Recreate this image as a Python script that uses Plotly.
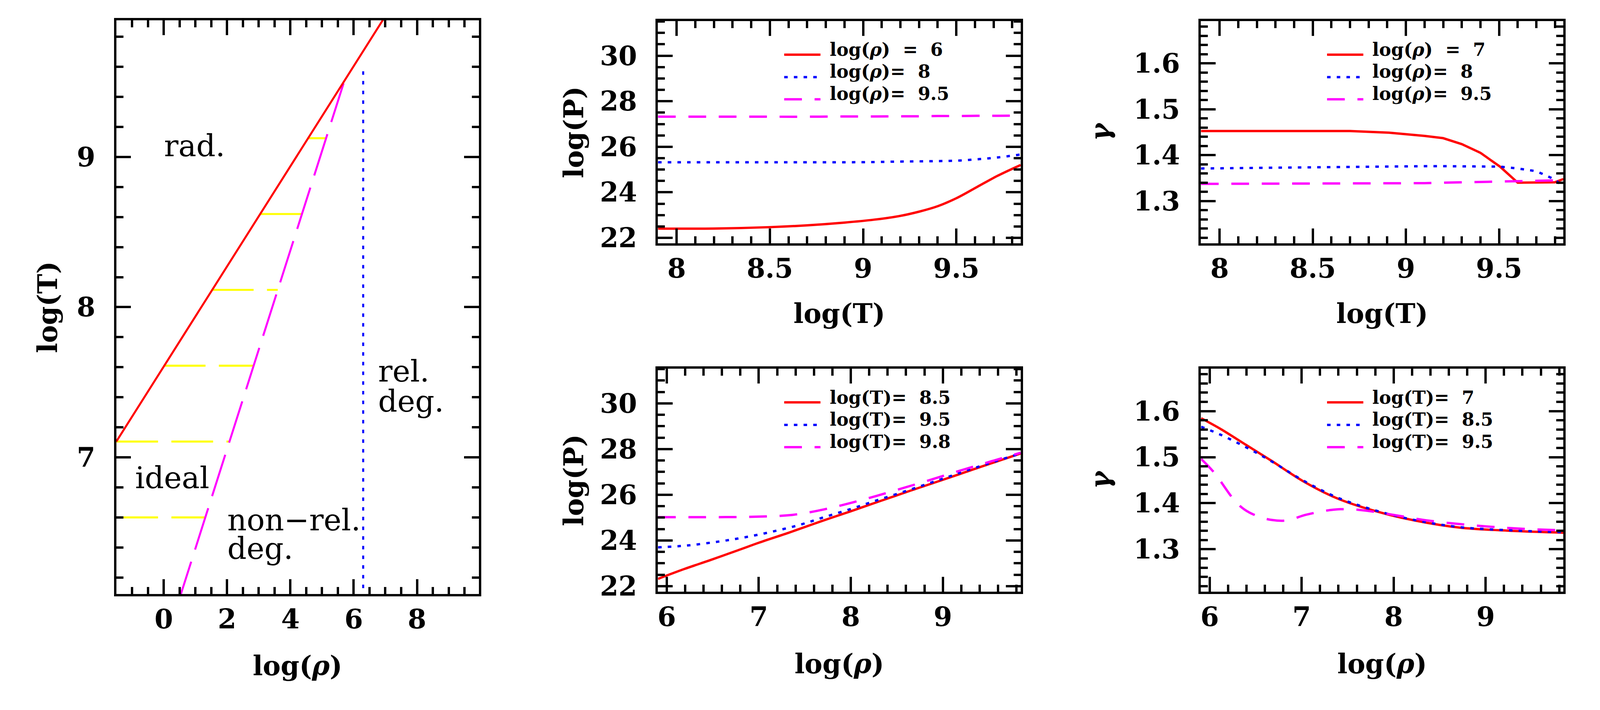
import plotly.graph_objects as go

# ---------------- data ----------------
# left panel: regime boundaries in the log(rho)-log(T) plane
rad_rho = [-1.5, 7.2]
rad_logT = [7.105, 10.005]
nrd_rho = [0.45, 5.68]
nrd_logT = [6.03, 9.49]
rd_rho = [6.3, 6.3]
rd_logT = [6.0, 9.6]
yel_logT = [6.6, 7.105, 7.61, 8.115, 8.62, 9.125]
yel_rho_start = [-1.5, -1.5, 0.0, 1.52, 3.04, 4.56]
yel_rho_end = [1.30, 2.07, 2.84, 3.60, 4.37, 5.13]

# middle top: log(P) vs log(T)
tm_logT = [7.90, 8.20, 8.50, 8.70, 8.90, 9.06, 9.19, 9.30, 9.40, 9.50, 9.61, 9.72, 9.845]
P_rho6 = [22.41, 22.41, 22.47, 22.55, 22.67, 22.80, 22.95, 23.15, 23.39, 23.74, 24.23, 24.72, 25.20]
P_rho8 = [25.32, 25.32, 25.32, 25.32, 25.32, 25.33, 25.35, 25.36, 25.37, 25.39, 25.45, 25.53, 25.66]
P_rho95 = [27.32, 27.32, 27.32, 27.32, 27.33, 27.33, 27.34, 27.34, 27.35, 27.35, 27.36, 27.36, 27.37]

# right top: gamma vs log(T)
tr_logT = [7.90, 8.30, 8.70, 8.91, 9.10, 9.20, 9.30, 9.40, 9.505, 9.60, 9.70, 9.80, 9.845]
g_rho7 = [1.4526, 1.4526, 1.4525, 1.449, 1.442, 1.437, 1.424, 1.405, 1.375, 1.340, 1.341, 1.341, 1.348]
g_rho8 = [1.371, 1.373, 1.375, 1.3755, 1.376, 1.376, 1.376, 1.376, 1.375, 1.371, 1.365, 1.347, 1.331]
g_rho95 = [1.3375, 1.3377, 1.338, 1.3385, 1.339, 1.340, 1.341, 1.342, 1.343, 1.344, 1.3445, 1.345, 1.345]

# middle bottom: log(P) vs log(rho)
bm_rho_a = [5.905, 6.19, 6.48, 6.78, 7.0, 7.34, 7.67, 8.0, 8.30, 8.64, 9.01, 9.38, 9.845]
P_T85 = [22.32, 22.75, 23.15, 23.58, 23.90, 24.36, 24.83, 25.28, 25.70, 26.17, 26.67, 27.18, 27.81]
bm_rho_b = [5.905, 6.22, 6.56, 6.85, 7.15, 7.45, 7.71, 8.0, 8.27, 8.64, 9.01, 9.38, 9.845]
P_T95 = [23.70, 23.78, 23.95, 24.14, 24.39, 24.69, 25.02, 25.38, 25.74, 26.22, 26.72, 27.22, 27.81]
bm_rho_c = [5.905, 6.41, 6.97, 7.34, 7.60, 7.89, 8.19, 8.49, 8.82, 9.19, 9.53, 9.845]
P_T98 = [25.02, 25.02, 25.04, 25.11, 25.27, 25.53, 25.85, 26.20, 26.60, 27.06, 27.47, 27.84]

# right bottom: gamma vs log(rho)
br_rho_a = [5.907, 6.12, 6.40, 6.68, 7.01, 7.38, 7.79, 8.24, 8.72, 9.28, 9.845]
g_T7 = [1.5845, 1.561, 1.526, 1.491, 1.4485, 1.411, 1.3835, 1.362, 1.347, 1.340, 1.336]
g_T85 = [1.566, 1.5485, 1.521, 1.490, 1.450, 1.413, 1.385, 1.363, 1.348, 1.341, 1.337]
br_rho_c = [5.907, 6.05, 6.27, 6.38, 6.53, 6.68, 6.83, 7.05, 7.27, 7.42, 7.60, 7.80, 8.05, 8.35, 8.70, 9.05, 9.40, 9.845]
g_T95 = [1.496, 1.466, 1.406, 1.386, 1.371, 1.3635, 1.3625, 1.375, 1.384, 1.387, 1.386, 1.381, 1.373, 1.363, 1.355, 1.349, 1.3445, 1.341]

legend_tm = ["log(<i>ρ</i>)&nbsp; = &nbsp;6", "log(<i>ρ</i>)= &nbsp;8", "log(<i>ρ</i>)= &nbsp;9.5"]
legend_tr = ["log(<i>ρ</i>)&nbsp; = &nbsp;7", "log(<i>ρ</i>)= &nbsp;8", "log(<i>ρ</i>)= &nbsp;9.5"]
legend_bm = ["log(T)= &nbsp;8.5", "log(T)= &nbsp;9.5", "log(T)= &nbsp;9.8"]
legend_br = ["log(T)= &nbsp;7", "log(T)= &nbsp;8.5", "log(T)= &nbsp;9.5"]

region_text = ["rad.", "ideal", "non−rel.", "deg.", "rel.", "deg."]
region_rho = [0.0, -0.92, 1.99, 2.0, 6.76, 6.76]
region_logT = [9.073, 6.863, 6.583, 6.393, 7.573, 7.373]

# ---------------- styles ----------------
S = 1.17  # device pixels per CSS pixel of the photographing browser


def px(v):
    return v / S


RED, BLUE, MAG, YEL = "#ff0000", "#0000ff", "#ff00ff", "#ffff00"
LW = px(7)
LW_LEFT = px(6)
DOT = f"{px(10.5):.1f}px,{px(18.5):.1f}px"
DASH_S = f"{px(53):.1f}px,{px(38):.1f}px"
DASH_L = f"{px(130):.1f}px,{px(38):.1f}px"
DASH_Y = f"{px(125):.1f}px,{px(40):.1f}px"
FONT = "DejaVu Serif"
styles = [
    dict(color=RED, width=LW, dash="solid"),
    dict(color=BLUE, width=LW, dash=DOT),
    dict(color=MAG, width=LW, dash=DASH_S),
]

fig = go.Figure()


def add(x, y, line, xa, ya, shape="linear"):
    fig.add_trace(go.Scatter(x=x, y=y, mode="lines", line=dict(**line, shape=shape),
                             xaxis=xa, yaxis=ya, showlegend=False, hoverinfo="skip"))


# left panel
for ys, xs, xe in zip(yel_logT, yel_rho_start, yel_rho_end):
    add([xs, xe], [ys, ys], dict(color=YEL, width=LW_LEFT, dash=DASH_Y), "x", "y")
add(nrd_rho, nrd_logT, dict(color=MAG, width=LW_LEFT, dash=DASH_L), "x", "y")
add(rad_rho, rad_logT, dict(color=RED, width=LW_LEFT, dash="solid"), "x", "y")
add(rd_rho, rd_logT, dict(color=BLUE, width=LW_LEFT, dash=DOT), "x", "y")

# middle top
for y, st in zip([P_rho6, P_rho8, P_rho95], styles):
    add(tm_logT, y, st, "x2", "y2", "spline")
# right top
for y, st in zip([g_rho7, g_rho8, g_rho95], styles):
    add(tr_logT, y, st, "x3", "y3")
# middle bottom
for x, y, st in zip([bm_rho_a, bm_rho_b, bm_rho_c], [P_T85, P_T95, P_T98], styles):
    add(x, y, st, "x4", "y4", "spline")
# right bottom
for x, y, st in zip([br_rho_a, br_rho_a, br_rho_c], [g_T7, g_T85, g_T95], styles):
    add(x, y, st, "x5", "y5", "spline")


# ---------------- axes ----------------
def axis(rng, domain, anchor, dtick, mdtick, title, standoff, tl_standoff, tick0=0):
    return dict(
        range=rng, domain=domain, anchor=anchor, autorange=False, automargin=False,
        showline=True, linewidth=px(7), linecolor="black", mirror="ticks",
        ticks="inside", ticklen=px(44), tickwidth=px(7), tickcolor="black",
        tick0=tick0, dtick=dtick,
        minor=dict(dtick=mdtick, tick0=tick0, ticks="inside", ticklen=px(21), tickwidth=px(7),
                   tickcolor="black", showgrid=False),
        showgrid=False, zeroline=False,
        tickfont=dict(family=FONT, size=px(80), color="black", weight="bold"),
        ticklabelstandoff=int(round(px(tl_standoff))),
        title=dict(text=title, standoff=px(standoff),
                   font=dict(family=FONT, size=px(80), color="black", weight="bold")),
    )


XL = [0.0727, 0.2992]
XM = [0.41125, 0.6379]
XR = [0.7506, 0.9771]
YL = [0.1634, 0.9714]
YT = [0.6573, 0.9703]
YB = [0.1667, 0.4807]

rho_title = "log(<i>ρ</i>)"
fig.update_layout(
    xaxis=axis([-1.5, 9.95], XL, "y", 2, 0.5, rho_title, 69, 0),
    yaxis=axis([6.09, 9.91], YL, "x", 1, 0.2, "log(T)", 35, 40),
    xaxis2=axis([7.9, 9.845], XM, "y2", 0.5, 0.1, "log(T)", 65, 0),
    yaxis2=axis([21.76, 31.52], YT, "x2", 2, 0.5, "log(P)", 26, 40),
    xaxis3=axis([7.9, 9.845], XR, "y3", 0.5, 0.1, "log(T)", 65, 0),
    yaxis3=axis([1.208, 1.692], YT, "x3", 0.1, 0.02, "<i>γ</i>", 47, 40),
    xaxis4=axis([5.905, 9.845], XM, "y4", 1, 0.2, rho_title, 70, 0),
    yaxis4=axis([21.76, 31.52], YB, "x4", 2, 0.5, "log(P)", 26, 40),
    xaxis5=axis([5.905, 9.845], XR, "y5", 1, 0.2, rho_title, 70, 0),
    yaxis5=axis([1.208, 1.692], YB, "x5", 0.1, 0.02, "<i>γ</i>", 47, 40),
)

# ---------------- legends (drawn inside panels) ----------------
shapes = []
annotations = []
LEG_SAMPLE_X = [0.348, 0.448]
LEG_TEXT_X = 0.472
LEG_LINE_Y = [0.849, 0.748, 0.648]
LEG_TEXT_Y = [0.871, 0.773, 0.673]
for (xa, ya), texts in zip([("x2", "y2"), ("x3", "y3"), ("x4", "y4"), ("x5", "y5")],
                           [legend_tm, legend_tr, legend_bm, legend_br]):
    for st, txt, ly, ty in zip(styles, texts, LEG_LINE_Y, LEG_TEXT_Y):
        shapes.append(dict(type="line", xref=xa + " domain", yref=ya + " domain",
                           x0=LEG_SAMPLE_X[0], x1=LEG_SAMPLE_X[1], y0=ly, y1=ly,
                           line=dict(color=st["color"], width=LW, dash=st["dash"])))
        annotations.append(dict(text=txt, xref=xa + " domain", yref=ya + " domain",
                                x=LEG_TEXT_X, y=ty, xanchor="left", yanchor="middle",
                                showarrow=False, borderpad=0,
                                font=dict(family=FONT, size=px(54), color="black", weight="bold")))

# region labels in the left panel
for t, xr, yt in zip(region_text, region_rho, region_logT):
    annotations.append(dict(text=t, x=xr, y=yt, xref="x", yref="y", xanchor="left",
                            yanchor="middle", showarrow=False, borderpad=0,
                            font=dict(family=FONT, size=px(90), color="black")))

fig.update_layout(
    shapes=shapes, annotations=annotations,
    autosize=True, margin=dict(l=0, r=0, t=0, b=0, pad=0),
    paper_bgcolor="white", plot_bgcolor="white", template="none", showlegend=False,
)

post = ("document.documentElement.style.margin='0';document.body.style.margin='0';"
        "document.body.style.overflow='hidden';"
        "var gd=document.getElementById('{plot_id}');Plotly.Plots.resize(gd);")
fig.write_html("out.html", default_width="100vw", default_height="100vh",
               config={"displayModeBar": False}, post_script=post)
